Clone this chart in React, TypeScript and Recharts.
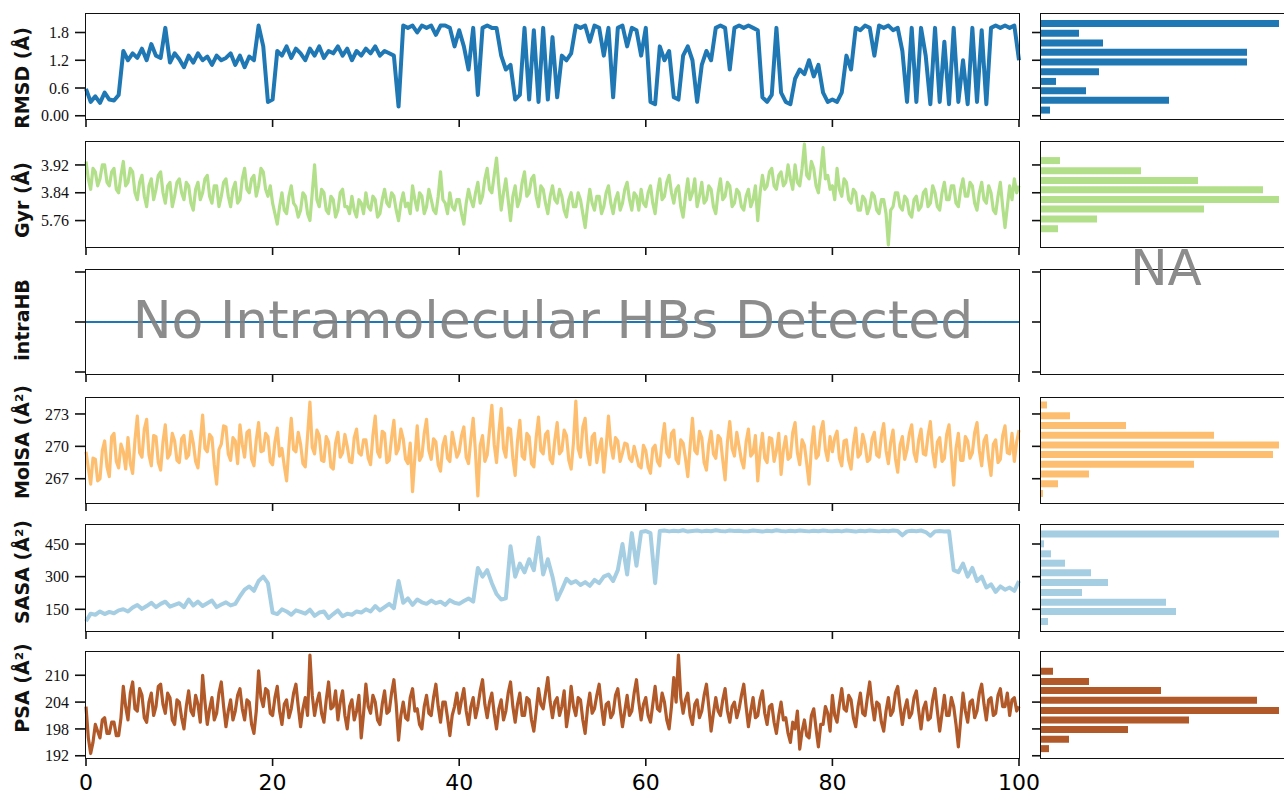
import { LineChart, Line, XAxis, YAxis, BarChart, Bar } from "recharts";

const timeTicks = [0, 20, 40, 60, 80, 100];

// RMSD and SASA sampled every 0.5 ns (0..100)
const rmsd = [
  0.58, 0.3, 0.42, 0.28, 0.5, 0.35, 0.33, 0.45, 1.4, 1.2, 1.35, 1.25, 1.45, 1.2, 1.55, 1.3, 1.25, 1.9, 1.15, 1.35,
  1.22, 1.05, 1.3, 1.15, 1.35, 1.2, 1.28, 1.1, 1.3, 1.2, 1.25, 1.35, 1.1, 1.3, 1.05, 1.28, 1.2, 1.95, 1.5, 0.3,
  0.35, 1.4, 1.3, 1.5, 1.25, 1.45, 1.35, 1.2, 1.45, 1.3, 1.5, 1.25, 1.4, 1.35, 1.5, 1.3, 1.45, 1.2, 1.4, 1.3,
  1.45, 1.35, 1.5, 1.3, 1.4, 1.35, 1.3, 0.2, 1.95, 1.9, 1.95, 1.8, 1.95, 1.9, 1.95, 1.75, 1.95, 1.95, 1.9, 1.5,
  1.85, 1.5, 1.0, 1.9, 0.45, 1.9, 1.95, 1.9, 1.9, 1.3, 1.0, 1.1, 0.35, 0.45, 1.9, 0.35, 1.85, 0.3, 1.9, 0.35,
  1.7, 0.4, 1.3, 1.2, 1.35, 1.95, 1.9, 1.95, 1.6, 1.95, 1.9, 1.3, 1.9, 0.4, 1.9, 1.95, 1.5, 1.9, 1.85, 1.3,
  1.9, 0.3, 0.25, 1.5, 1.2, 1.4, 0.4, 0.35, 1.3, 1.5, 1.2, 0.3, 1.1, 1.4, 1.2, 1.9, 1.95, 1.9, 1.0, 1.9,
  1.95, 1.9, 1.95, 1.9, 1.85, 0.4, 0.3, 0.45, 1.9, 0.5, 0.3, 0.25, 0.8, 1.0, 0.9, 1.2, 0.85, 1.1, 0.5, 0.3,
  0.35, 0.3, 0.5, 1.3, 1.0, 1.9, 1.85, 1.95, 1.9, 1.3, 1.95, 1.9, 1.95, 1.85, 1.9, 1.4, 0.3, 1.9, 0.3, 1.9,
  1.3, 0.25, 1.9, 0.3, 1.6, 0.25, 1.9, 0.3, 1.2, 0.25, 1.9, 0.3, 1.85, 0.25, 1.9, 1.95, 1.9, 1.95, 1.9, 1.95,
  1.2,
];

const sasa = [
  95, 130, 125, 140, 128, 138, 132, 145, 150, 140, 158, 170, 152, 165, 180, 160, 175, 185, 162, 170,
  178, 160, 195, 168, 185, 165, 178, 190, 160, 172, 182, 168, 175, 210, 240, 255, 235, 280, 300, 270,
  135, 128, 150, 140, 125, 145, 138, 130, 148, 120, 135, 140, 110, 128, 145, 118, 130, 125, 140, 135,
  150, 140, 165, 145, 160, 175, 155, 280, 180, 200, 170, 195, 182, 175, 190, 178, 185, 170, 192, 180,
  175, 188, 200, 185, 340, 300, 330, 270, 220, 195, 200, 440, 300, 360, 320, 380, 330, 480, 310, 380,
  300, 195, 240, 290, 270, 280, 262, 275, 258, 285, 270, 300, 310, 280, 330, 450, 310, 500, 350, 505,
  510, 500, 270, 510, 512, 508, 511, 509, 513, 507, 510, 512, 508, 511, 509, 513, 510, 508, 512, 510,
  511, 508, 509, 512, 510, 507, 511, 509, 513, 510, 508, 511, 509, 512, 510, 508, 511, 509, 512, 510,
  509, 511, 508, 512, 510, 507, 511, 509, 512, 510, 508, 511, 509, 512, 510, 490, 508, 511, 509, 512,
  505, 488, 508, 510, 507, 509, 330, 320, 360, 300, 340, 280, 300, 250, 265, 230, 255, 240, 250, 235,
  280,
];

// Gyr, MolSA and PSA are noisier: sampled every 0.25 ns
const gyr = [
  3.93, 3.88, 3.85, 3.91, 3.9, 3.86, 3.88, 3.92, 3.92, 3.87, 3.86, 3.9, 3.91, 3.85, 3.84, 3.89, 3.93, 3.86, 3.87, 3.91,
  3.9, 3.84, 3.82, 3.87, 3.89, 3.83, 3.8, 3.86, 3.88, 3.82, 3.85, 3.89, 3.9, 3.84, 3.81, 3.86, 3.87, 3.8, 3.83, 3.87,
  3.88, 3.84, 3.82, 3.87, 3.86, 3.81, 3.79, 3.85, 3.87, 3.82, 3.84, 3.88, 3.89, 3.83, 3.81, 3.86, 3.86, 3.8, 3.83, 3.87,
  3.88, 3.83, 3.8, 3.85, 3.87, 3.81, 3.82, 3.88, 3.91, 3.85, 3.84, 3.88, 3.89, 3.83, 3.86, 3.91, 3.9, 3.85, 3.83, 3.86,
  3.81, 3.78, 3.75, 3.8, 3.84, 3.79, 3.78, 3.83, 3.86, 3.81, 3.8, 3.77, 3.79, 3.84, 3.83, 3.78, 3.76, 3.84, 3.92, 3.82,
  3.8, 3.85, 3.84, 3.79, 3.78, 3.83, 3.82, 3.77, 3.79, 3.84, 3.85, 3.8, 3.8, 3.78, 3.83, 3.79, 3.77, 3.82, 3.81, 3.78,
  3.84, 3.8, 3.79, 3.83, 3.82, 3.77, 3.78, 3.82, 3.85, 3.81, 3.8, 3.84, 3.83, 3.79, 3.76, 3.81, 3.84, 3.8, 3.81, 3.78,
  3.86, 3.82, 3.79, 3.84, 3.83, 3.78, 3.8, 3.85, 3.82, 3.79, 3.78, 3.83, 3.9, 3.82, 3.81, 3.78, 3.84, 3.8, 3.79, 3.82,
  3.82, 3.78, 3.75, 3.81, 3.85, 3.82, 3.8, 3.84, 3.87, 3.81, 3.83, 3.88, 3.91, 3.85, 3.84, 3.89, 3.94, 3.86, 3.79, 3.84,
  3.88, 3.82, 3.76, 3.83, 3.86, 3.8, 3.82, 3.87, 3.9, 3.83, 3.84, 3.88, 3.89, 3.83, 3.8, 3.86, 3.85, 3.81, 3.78, 3.83,
  3.86, 3.82, 3.81, 3.85, 3.83, 3.79, 3.77, 3.82, 3.84, 3.8, 3.8, 3.84, 3.82, 3.78, 3.74, 3.8, 3.85, 3.81, 3.79, 3.83,
  3.83, 3.78, 3.8, 3.84, 3.86, 3.81, 3.78, 3.82, 3.84, 3.79, 3.81, 3.85, 3.87, 3.82, 3.79, 3.84, 3.83, 3.79, 3.85, 3.81,
  3.8, 3.84, 3.86, 3.81, 3.78, 3.84, 3.88, 3.82, 3.83, 3.87, 3.89, 3.84, 3.81, 3.85, 3.86, 3.8, 3.77, 3.83, 3.88, 3.82,
  3.84, 3.88, 3.8, 3.83, 3.87, 3.81, 3.82, 3.86, 3.85, 3.8, 3.78, 3.84, 3.88, 3.82, 3.83, 3.87, 3.86, 3.8, 3.81, 3.85,
  3.84, 3.8, 3.79, 3.83, 3.85, 3.8, 3.82, 3.86, 3.76, 3.84, 3.89, 3.85, 3.86, 3.9, 3.91, 3.86, 3.85, 3.89, 3.9, 3.86,
  3.87, 3.92, 3.88, 3.85, 3.92, 3.87, 3.86, 3.91, 3.98, 3.89, 3.88, 3.93, 3.91, 3.86, 3.84, 3.9, 3.97, 3.88, 3.89, 3.85,
  3.86, 3.82, 3.91, 3.85, 3.83, 3.88, 3.87, 3.82, 3.81, 3.85, 3.84, 3.79, 3.79, 3.83, 3.82, 3.78, 3.8, 3.84, 3.83, 3.79,
  3.78, 3.82, 3.82, 3.78, 3.69, 3.79, 3.8, 3.84, 3.84, 3.8, 3.79, 3.83, 3.82, 3.78, 3.77, 3.82, 3.83, 3.79, 3.8, 3.84,
  3.85, 3.8, 3.81, 3.86, 3.84, 3.8, 3.79, 3.84, 3.87, 3.82, 3.82, 3.86, 3.86, 3.81, 3.8, 3.85, 3.88, 3.83, 3.83, 3.87,
  3.86, 3.81, 3.79, 3.84, 3.87, 3.82, 3.81, 3.86, 3.84, 3.79, 3.78, 3.83, 3.87, 3.8, 3.74, 3.8, 3.86, 3.82, 3.88, 3.84,
  3.86,
];

const molsa = [
  269.5, 268.0, 266.5, 268.9, 268.8, 266.8, 267.0, 269.6, 270.5, 268.1, 267.2, 270.9, 271.2, 268.6, 268.0, 270.2, 269.5, 267.9, 270.8, 268.4,
  267.5, 270.6, 272.8, 269.4, 269.0, 271.6, 272.5, 269.2, 268.2, 271.0, 270.9, 268.5, 267.8, 270.4, 272.0, 268.9, 269.3, 271.2, 270.5, 268.7,
  268.5, 270.7, 271.0, 268.9, 269.2, 271.4, 270.3, 268.6, 268.0, 270.5, 272.9, 269.8, 269.5, 271.1, 270.8, 268.3, 266.5, 269.7, 270.2, 271.9,
  271.8, 269.3, 268.7, 270.8, 270.5, 268.4, 272.0, 270.2, 269.0, 271.3, 271.5, 268.8, 268.2, 270.6, 272.2, 269.5, 269.6, 271.2, 270.9, 268.6,
  268.3, 270.4, 271.7, 269.1, 269.8, 268.2, 266.8, 270.0, 272.6, 269.7, 269.5, 271.3, 270.2, 268.4, 268.1, 271.0, 274.1, 269.9, 269.3, 271.5,
  271.0, 268.7, 268.6, 270.9, 270.4, 268.1, 267.9, 270.3, 271.3, 269.0, 269.4, 271.1, 270.0, 268.6, 268.5, 270.8, 271.6, 269.4, 269.2, 270.6,
  270.6, 268.9, 268.3, 271.0, 272.8, 269.5, 269.0, 271.4, 271.2, 268.5, 268.7, 270.8, 272.4, 269.3, 269.8, 271.6, 270.7, 268.8, 268.4, 270.3,
  265.8, 269.0, 271.9, 268.7, 269.1, 271.2, 272.5, 269.6, 268.8, 270.7, 270.4, 268.3, 267.7, 270.1, 270.9, 268.9, 268.6, 271.3, 270.2, 269.0,
  269.5, 271.0, 271.8, 269.0, 268.4, 270.7, 272.6, 269.4, 265.4, 270.1, 271.0, 268.6, 269.2, 271.5, 273.8, 270.2, 268.5, 271.3, 273.5, 269.8,
  269.0, 271.7, 271.6, 268.9, 267.3, 270.5, 272.4, 269.1, 268.8, 271.2, 270.9, 268.4, 268.1, 270.8, 272.7, 269.6, 269.3, 271.1, 271.4, 268.8,
  268.4, 270.6, 272.2, 269.3, 269.6, 271.5, 271.0, 268.7, 267.9, 270.4, 274.2, 269.8, 269.0, 271.8, 272.6, 269.5, 268.3, 270.9, 271.2, 268.5,
  269.8, 270.7, 267.6, 269.9, 272.8, 270.1, 268.9, 270.8, 270.5, 268.6, 269.4, 270.3, 270.2, 268.9, 268.6, 270.0, 269.1, 268.2, 268.0, 270.1,
  269.6, 268.1, 267.5, 269.8, 270.1, 268.6, 268.2, 270.5, 272.1, 269.4, 269.0, 271.2, 271.5, 268.8, 268.4, 270.6, 270.3, 268.9, 267.2, 270.0,
  272.6, 269.6, 269.3, 271.4, 270.8, 268.5, 267.8, 270.2, 271.4, 269.3, 268.9, 271.0, 270.7, 268.7, 266.9, 270.4, 272.3, 269.8, 269.1, 271.3,
  270.0, 268.7, 268.0, 270.4, 271.6, 269.1, 269.4, 271.0, 266.8, 269.5, 271.2, 268.9, 268.5, 270.8, 270.7, 268.6, 269.6, 271.2, 267.4, 269.7,
  270.9, 268.8, 269.0, 271.3, 272.2, 269.4, 268.3, 270.6, 270.1, 268.4, 266.5, 269.9, 271.8, 268.9, 269.2, 271.4, 272.3, 269.7, 268.7, 270.9,
  269.5, 270.8, 271.4, 268.9, 268.2, 270.5, 270.6, 268.7, 267.9, 270.2, 271.7, 269.0, 269.3, 271.1, 270.2, 268.6, 268.8, 270.7, 271.3, 269.2,
  269.0, 271.0, 272.1, 269.6, 268.4, 270.4, 271.5, 268.9, 267.6, 270.1, 270.9, 268.8, 269.7, 271.2, 272.0, 269.4, 268.6, 270.6, 271.6, 269.3,
  269.2, 271.0, 272.3, 269.5, 268.1, 270.4, 270.8, 268.6, 268.9, 271.1, 272.0, 269.2, 266.4, 269.8, 271.2, 268.7, 268.7, 270.9, 270.5, 268.9,
  269.4, 271.3, 272.2, 269.6, 268.2, 270.5, 271.0, 268.8, 267.3, 270.2, 270.6, 268.5, 268.8, 271.0, 271.9, 269.4, 269.3, 271.2, 268.6, 270.4,
  271.5,
];

const psa = [
  203, 196, 192.5, 195, 199, 197.5, 196, 200, 200.5, 197, 197, 199.5, 199.5, 196.5, 196.5, 200.5, 207.5, 203, 200, 206,
  208.5, 202.5, 202, 207, 205.5, 200.5, 199.5, 204, 206, 201, 203, 207.5, 208, 203.5, 201.5, 206, 205, 200, 199, 204.5,
  204, 200.5, 198, 203, 206.5, 202, 201, 205.5, 203.5, 199.5, 210, 204, 199, 202.5, 205, 200, 201.5, 206, 208.5, 203,
  198.5, 202, 204.5, 200, 202, 205.5, 207, 202.5, 200, 204.5, 204, 199, 197, 202, 211, 205, 203, 207, 206.5, 201.5,
  201, 205, 207.5, 202, 199, 203.5, 204.5, 200.5, 202.5, 206, 208, 203, 198.5, 202.5, 205, 201, 214.5, 205.5, 201, 204,
  206, 201.5, 199.5, 204.5, 208.5, 202.5, 203, 206.5, 200, 204, 206.5, 201, 198, 203, 204.5, 200, 202, 205.5, 196, 201.5,
  208, 203, 201.5, 205.5, 204, 200, 199, 203.5, 206.5, 201.5, 202, 206, 209, 203.5, 195.5, 201, 204, 200.5, 200, 205,
  207, 202, 202.5, 199, 198, 203, 205.5, 201.5, 201, 205, 208, 203, 199.5, 204, 204, 200.5, 196.5, 201, 203, 206,
  201.5, 204.5, 207, 202, 199, 203, 205, 200.5, 203, 206.5, 209, 203.5, 200.5, 204, 206, 201.5, 198, 202.5, 204.5, 200,
  202, 206, 208.5, 203, 199.5, 203.5, 206, 201, 201, 205, 204.5, 200, 197.5, 202, 207, 203.5, 202.5, 206, 209.5, 204,
  200.5, 204, 205, 201, 203, 206.5, 198.5, 202, 207.5, 203, 201, 205, 204.5, 200, 197, 202.5, 206, 201.5, 202.5, 205.5,
  208, 203, 199, 203.5, 204, 200.5, 201.5, 205.5, 207, 202.5, 198.5, 202, 205.5, 201, 202, 206, 209, 204, 200, 203.5,
  205, 201, 199.5, 203.5, 207.5, 202.5, 202, 206, 204, 200, 198, 203, 209.5, 204, 214.5, 205, 201.5, 204.5, 206, 201,
  199, 203.5, 204.5, 200.5, 202, 205.5, 208, 203, 197.5, 201.5, 205, 202, 201, 204.5, 207, 202, 199.5, 203, 204, 200.5,
  202.5, 205.5, 208, 203, 198.5, 202, 205, 200.5, 201, 204.5, 206.5, 201.5, 199, 203, 203.5, 199.5, 197, 201, 204, 200,
  200.5, 197, 195, 199.5, 198, 202, 193.5, 197.5, 200, 196.5, 196, 201, 202.5, 198, 194, 199, 199, 203, 201.5, 197.5,
  205.5, 201, 199.5, 203.5, 207, 202.5, 202, 205.5, 204.5, 200.5, 198.5, 203, 206, 201.5, 201, 205, 208.5, 203.5, 200, 204,
  203.5, 199.5, 197.5, 202, 205, 201, 202, 206, 207.5, 203, 199, 202.5, 204.5, 200.5, 201.5, 205, 206.5, 202, 198, 202.5,
  204, 200, 200.5, 204.5, 207, 202, 197.5, 201.5, 205.5, 201, 201, 205, 203, 199, 194, 200, 206, 202, 199.5, 204,
  204.5, 200.5, 202, 206, 208, 203.5, 200, 204.5, 205, 201, 201.5, 205.5, 207, 203, 203, 206, 201, 204.5, 205, 202,
  203,
];

const intraHBTime = [0, 100];
const intraHB = [0, 0];

// histogram bins (centres) and counts, bottom to top
const rmsdBins = [0.12, 0.33, 0.54, 0.74, 0.95, 1.16, 1.37, 1.57, 1.78, 1.99];
const rmsdCounts = [9, 128, 45, 15, 58, 206, 206, 62, 38, 238];
const gyrBins = [3.736, 3.764, 3.793, 3.82, 3.848, 3.875, 3.903, 3.932];
const gyrCounts = [17, 56, 163, 238, 222, 157, 100, 19];
const molsaBins = [265.6, 266.5, 267.4, 268.3, 269.2, 270.1, 271.0, 271.9, 272.8, 273.8];
const molsaCounts = [2, 17, 48, 153, 232, 238, 173, 85, 29, 6];
const sasaBins = [93, 139, 182, 226, 272, 317, 361, 404, 450, 495];
const sasaCounts = [7, 135, 125, 41, 67, 50, 24, 10, 3, 238];
const psaBins = [193.6, 195.7, 197.9, 200.0, 202.1, 204.4, 206.6, 208.6, 210.9];
const psaCounts = [8, 28, 87, 148, 238, 216, 120, 48, 12];

const series = (values: number[], step: number) => values.map((v, i) => ({ t: i * step, v }));
const pairs = (times: number[], values: number[]) => values.map((v, i) => ({ t: times[i], v }));
const hist = (bins: number[], counts: number[]) => bins.map((b, i) => ({ b, c: counts[i] }));

const panels = [
  {
    name: "RMSD (Å)", top: 14, bottom: 119, labelY: 78, color: "#1f78b4", sw: 4,
    data: series(rmsd, 0.5), bars: hist(rmsdBins, rmsdCounts),
    domain: [-0.07, 2.2], ticks: [0, 0.6, 1.2, 1.8], tickText: ["0.00", "0.6", "1.2", "1.8"],
  },
  {
    name: "Gyr (Å)", top: 142, bottom: 247, labelY: 200, color: "#b2df8a", sw: 3.2,
    data: series(gyr, 0.25), bars: hist(gyrBins, gyrCounts),
    domain: [3.684, 3.986], ticks: [3.76, 3.84, 3.92], tickText: ["5.76", "3.84", "3.92"],
  },
  {
    name: "intraHB", top: 270, bottom: 374, labelY: 320, color: "#1f77b4", sw: 2,
    data: pairs(intraHBTime, intraHB), bars: [] as { b: number; c: number }[],
    domain: [-0.052, 0.052], ticks: [-0.05, 0, 0.05], tickText: ["", "", ""],
  },
  {
    name: "MolSA (Å²)", top: 398, bottom: 503, labelY: 442, color: "#fdbf6f", sw: 3.2,
    data: series(molsa, 0.25), bars: hist(molsaBins, molsaCounts),
    domain: [264.75, 274.48], ticks: [267, 270, 273], tickText: ["267", "270", "273"],
  },
  {
    name: "SASA (Å²)", top: 525, bottom: 631, labelY: 572, color: "#a6cee3", sw: 4,
    data: series(sasa, 0.5), bars: hist(sasaBins, sasaCounts),
    domain: [50.3, 537.3], ticks: [150, 300, 450], tickText: ["150", "300", "450"],
  },
  {
    name: "PSA (Å²)", top: 652, bottom: 758, labelY: 688, color: "#b15928", sw: 3.2,
    data: series(psa, 0.25), bars: hist(psaBins, psaCounts),
    domain: [191.5, 215.2], ticks: [192, 198, 204, 210], tickText: ["192", "198", "204", "210"],
  },
];

const ink = "#111";

const frame = (x: number, y: number, w: number, h: number): React.CSSProperties => ({
  position: "absolute",
  left: x - 1,
  top: y - 1,
  width: w + 2,
  height: h + 2,
  border: `1.6px solid ${ink}`,
  boxSizing: "border-box",
  pointerEvents: "none",
});

const blank = () => "";

function Row({ p, last }: { p: (typeof panels)[number]; last: boolean }) {
  const h = p.bottom - p.top;
  const axisH = last ? 40 : 10;
  const fmt = (v: number) => p.tickText[p.ticks.indexOf(v)] ?? "";
  return (
    <>
      <div style={{ position: "absolute", left: 0, top: p.top }}>
        <LineChart width={1050} height={h + axisH} data={p.data} margin={{ top: 0, right: 31, bottom: 0, left: 0 }}>
          <XAxis
            dataKey="t"
            type="number"
            domain={[0, 100]}
            ticks={timeTicks}
            interval={0}
            height={axisH}
            axisLine={false}
            tickSize={8}
            tickMargin={8}
            tickLine={{ stroke: ink, strokeWidth: 1.6 }}
            tickFormatter={last ? undefined : blank}
            tick={{ fontSize: last ? 22 : 4, fill: "#000", fontFamily: "DejaVu Sans" }}
          />
          <YAxis
            type="number"
            domain={p.domain}
            ticks={p.ticks}
            interval={0}
            allowDataOverflow
            width={86}
            axisLine={false}
            tickSize={11}
            tickMargin={6}
            tickFormatter={fmt}
            tickLine={{ stroke: ink, strokeWidth: 1.6 }}
            tick={{ fontSize: 16, fill: ink, fontFamily: "'Liberation Serif', serif" }}
          />
          <Line
            dataKey="v"
            type="linear"
            stroke={p.color}
            strokeWidth={p.sw}
            strokeLinejoin="round"
            dot={false}
            isAnimationActive={false}
          />
        </LineChart>
      </div>
      <div style={frame(86, p.top, 933, h)} />

      <div style={{ position: "absolute", left: 1020, top: p.top }}>
        <BarChart layout="vertical" width={272} height={h} data={p.bars} margin={{ top: 0, right: 0, bottom: 0, left: 0 }}>
          <XAxis type="number" domain={[0, 251]} allowDataOverflow hide />
          <YAxis
            type="number"
            dataKey="b"
            domain={p.domain}
            ticks={p.ticks}
            interval={0}
            reversed
            allowDataOverflow
            width={21}
            axisLine={false}
            tickSize={9}
            tickFormatter={blank}
            tick={{ fontSize: 4 }}
            tickLine={{ stroke: ink, strokeWidth: 1.6 }}
          />
          <Bar dataKey="c" fill={p.color} barSize={7} isAnimationActive={false} />
        </BarChart>
      </div>
      <div style={frame(1041, p.top, 251, h)} />

      <div
        style={{
          position: "absolute",
          left: 22,
          top: p.labelY,
          transform: "translate(-50%, -50%) rotate(-90deg)",
          whiteSpace: "nowrap",
          fontFamily: "'DejaVu Sans', sans-serif",
          fontWeight: "bold",
          fontSize: 19,
          color: ink,
        }}
      >
        {p.name}
      </div>
    </>
  );
}

export default function App() {
  return (
    <div
      style={{
        position: "absolute",
        left: 0,
        top: 0,
        width: 1284,
        height: 794,
        overflow: "hidden",
        background: "#fff",
      }}
    >
      {panels.map((p, i) => (
        <Row key={p.name} p={p} last={i === panels.length - 1} />
      ))}
      <div
        style={{
          position: "absolute",
          left: 553,
          top: 320,
          transform: "translate(-50%, -50%)",
          whiteSpace: "nowrap",
          fontFamily: "'DejaVu Sans', sans-serif",
          fontSize: 52,
          lineHeight: 1,
          color: "rgba(128,128,128,0.9)",
        }}
      >
        No Intramolecular HBs Detected
      </div>
      <div
        style={{
          position: "absolute",
          left: 1166,
          top: 268,
          transform: "translate(-50%, -50%)",
          whiteSpace: "nowrap",
          fontFamily: "'DejaVu Sans', sans-serif",
          fontSize: 50,
          lineHeight: 1,
          color: "rgba(128,128,128,0.9)",
        }}
      >
        NA
      </div>
    </div>
  );
}
